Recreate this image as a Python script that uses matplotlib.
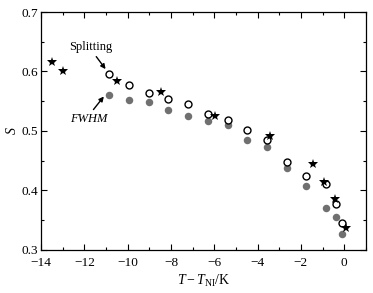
import matplotlib
matplotlib.use("Agg")
import matplotlib.pyplot as plt
from matplotlib.ticker import MultipleLocator

plt.rcParams['font.family'] = ['Liberation Serif', 'DejaVu Serif']
plt.rcParams['mathtext.fontset'] = 'custom'
plt.rcParams['mathtext.rm'] = 'Liberation Serif'
plt.rcParams['mathtext.it'] = 'Liberation Serif:italic'

star_x = [-13.5, -13.0, -10.5, -8.45, -5.95, -3.45, -1.42, -0.94, -0.42, 0.09]
star_y = [0.616, 0.600, 0.584, 0.566, 0.525, 0.492, 0.444, 0.415, 0.385, 0.337]

split_x = [-10.86, -9.94, -9.03, -8.12, -7.21, -6.31, -5.38, -4.48, -3.56, -2.64, -1.76, -0.82, -0.37, -0.11]
split_y = [0.595, 0.577, 0.563, 0.554, 0.546, 0.528, 0.518, 0.501, 0.484, 0.447, 0.425, 0.411, 0.378, 0.346]

fwhm_x = [-10.86, -9.94, -9.03, -8.12, -7.21, -6.31, -5.38, -4.48, -3.56, -2.64, -1.76, -0.82, -0.37, -0.11]
fwhm_y = [0.560, 0.552, 0.549, 0.536, 0.526, 0.517, 0.510, 0.485, 0.473, 0.437, 0.408, 0.371, 0.355, 0.327]

xticks = [-14, -12, -10, -8, -6, -4, -2, 0]
yticks = [0.3, 0.4, 0.5, 0.6, 0.7]

fig = plt.figure(figsize=(3.73, 2.93), dpi=100)
ax = fig.add_axes([0.110, 0.147, 0.871, 0.812])

ax.plot(fwhm_x, fwhm_y, 'o', color='#707070', markersize=5.4, markeredgewidth=0, zorder=2)
ax.plot(split_x, split_y, 'o', markerfacecolor='white', markeredgecolor='black',
        markersize=5.0, markeredgewidth=1.0, zorder=3)
ax.plot(star_x, star_y, '*', color='black', markersize=7, markeredgewidth=0, zorder=4)

ax.set_xlim(-14, 1)
ax.set_ylim(0.3, 0.7)
ax.set_xticks(xticks)
ax.set_xticklabels(['\u2212' + str(abs(t)) if t < 0 else str(t) for t in xticks])
ax.set_yticks(yticks)
ax.set_yticklabels([f'{t:.1f}' for t in yticks])
ax.xaxis.set_minor_locator(MultipleLocator(1))
ax.yaxis.set_minor_locator(MultipleLocator(0.05))
ax.tick_params(which='both', direction='in', top=True, right=True, labelsize=9.5)
ax.tick_params(axis='x', which='both', pad=5)
ax.tick_params(axis='y', which='both', pad=2)
ax.tick_params(which='major', length=4, width=0.8)
ax.tick_params(which='minor', length=2, width=0.8)
for s in ax.spines.values():
    s.set_linewidth(0.9)

ax.set_ylabel('$S$', fontsize=10, labelpad=2)
ax.set_xlabel('$T\u2212T_{\\mathrm{NI}}$/K', fontsize=10, labelpad=3)

ax.text(-11.7, 0.641, 'Splitting', ha='center', va='center', fontsize=9)
ax.annotate('', xy=(-11.02, 0.604), xytext=(-11.45, 0.625),
            arrowprops=dict(arrowstyle='-|>', color='black', lw=1.0,
                            mutation_scale=7, shrinkA=0, shrinkB=0))
ax.text(-11.8, 0.52, 'FWHM', ha='center', va='center', fontsize=9, style='italic')
ax.annotate('', xy=(-11.1, 0.558), xytext=(-11.58, 0.536),
            arrowprops=dict(arrowstyle='-|>', color='black', lw=1.0,
                            mutation_scale=7, shrinkA=0, shrinkB=0))

fig.savefig('out.png', dpi=100)
